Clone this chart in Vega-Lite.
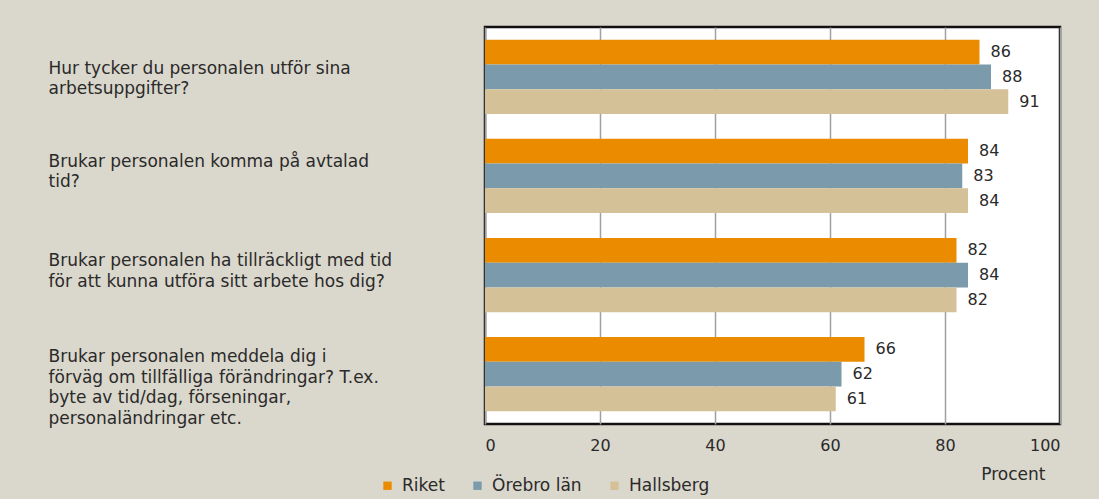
{
  "$schema": "https://vega.github.io/schema/vega-lite/v6.json",
  "width": 575,
  "height": 397,
  "autosize": {"type": "none"},
  "padding": {"left": 485, "top": 27, "right": 39, "bottom": 75},
  "background": "#dad7cc",
  "config": {
    "font": "DejaVu Sans",
    "view": {"fill": "white", "stroke": "#111111", "strokeWidth": 2.5}
  },
  "data": {
    "values": [
      {"q": "Hur tycker du personalen utför sina|arbetsuppgifter?", "serie": "Riket", "v": 86},
      {"q": "Hur tycker du personalen utför sina|arbetsuppgifter?", "serie": "Örebro län", "v": 88},
      {"q": "Hur tycker du personalen utför sina|arbetsuppgifter?", "serie": "Hallsberg", "v": 91},
      {"q": "Brukar personalen komma på avtalad|tid?", "serie": "Riket", "v": 84},
      {"q": "Brukar personalen komma på avtalad|tid?", "serie": "Örebro län", "v": 83},
      {"q": "Brukar personalen komma på avtalad|tid?", "serie": "Hallsberg", "v": 84},
      {"q": "Brukar personalen ha tillräckligt med tid|för att kunna utföra sitt arbete hos dig?", "serie": "Riket", "v": 82},
      {"q": "Brukar personalen ha tillräckligt med tid|för att kunna utföra sitt arbete hos dig?", "serie": "Örebro län", "v": 84},
      {"q": "Brukar personalen ha tillräckligt med tid|för att kunna utföra sitt arbete hos dig?", "serie": "Hallsberg", "v": 82},
      {"q": "Brukar personalen meddela dig i|förväg om tillfälliga förändringar? T.ex.|byte av tid/dag, förseningar,|personaländringar etc.", "serie": "Riket", "v": 66},
      {"q": "Brukar personalen meddela dig i|förväg om tillfälliga förändringar? T.ex.|byte av tid/dag, förseningar,|personaländringar etc.", "serie": "Örebro län", "v": 62},
      {"q": "Brukar personalen meddela dig i|förväg om tillfälliga förändringar? T.ex.|byte av tid/dag, förseningar,|personaländringar etc.", "serie": "Hallsberg", "v": 61}
    ]
  },
  "encoding": {
    "y": {
      "field": "q",
      "type": "nominal",
      "sort": null,
      "scale": {"paddingInner": 0.25, "paddingOuter": 0.13},
      "axis": {
        "title": null,
        "domain": false,
        "ticks": false,
        "tickSize": 0,
        "labelAlign": "left",
        "labelPadding": 437,
        "labelLimit": 460,
        "labelFontSize": 17,
        "labelLineHeight": 20.5,
        "labelColor": "#2a2a2a",
        "labelOffset": {"expr": "indexof(datum.value, 'meddela') >= 0 ? -17 : (indexof(datum.value, 'Hur tycker') >= 0 ? -8 : -14)"},
        "labelExpr": "split(datum.label, '|')"
      }
    },
    "yOffset": {
      "field": "serie",
      "type": "nominal",
      "sort": ["Riket", "Örebro län", "Hallsberg"],
      "scale": {"paddingInner": 0, "paddingOuter": 0}
    },
    "x": {
      "field": "v",
      "type": "quantitative",
      "scale": {"domain": [0, 100]},
      "axis": {
        "values": [0, 20, 40, 60, 80, 100],
        "grid": true,
        "gridColor": "#a0a0a0",
        "gridWidth": 1.5,
        "domain": false,
        "ticks": false,
        "tickSize": 0,
        "labelPadding": 13,
        "labelFontSize": 16,
        "labelColor": "#2a2a2a",
        "title": "Procent",
        "titleFontSize": 17,
        "titleFontWeight": "normal",
        "titleColor": "#2a2a2a",
        "titleX": 560,
        "titleY": 50,
        "titleAlign": "right",
        "titleBaseline": "middle"
      }
    }
  },
  "layer": [
    {
      "mark": {"type": "bar", "cornerRadius": 0},
      "encoding": {
        "color": {
          "field": "serie",
          "type": "nominal",
          "sort": ["Riket", "Örebro län", "Hallsberg"],
          "scale": {
            "domain": ["Riket", "Örebro län", "Hallsberg"],
            "range": ["#eb8b00", "#7b9aab", "#d4c197"]
          },
          "legend": {
            "title": null,
            "orient": "none",
            "legendX": -106,
            "legendY": 450,
            "direction": "horizontal",
            "symbolType": "square",
            "symbolSize": 70,
            "symbolStrokeWidth": 0,
            "labelFontSize": 17,
            "labelColor": "#2a2a2a",
            "columnPadding": 24,
            "labelOffset": 6
          }
        }
      }
    },
    {
      "mark": {"type": "text", "align": "left", "dx": 11, "fontSize": 16, "color": "#2a2a2a"},
      "encoding": {"text": {"field": "v", "type": "quantitative"}}
    }
  ]
}
